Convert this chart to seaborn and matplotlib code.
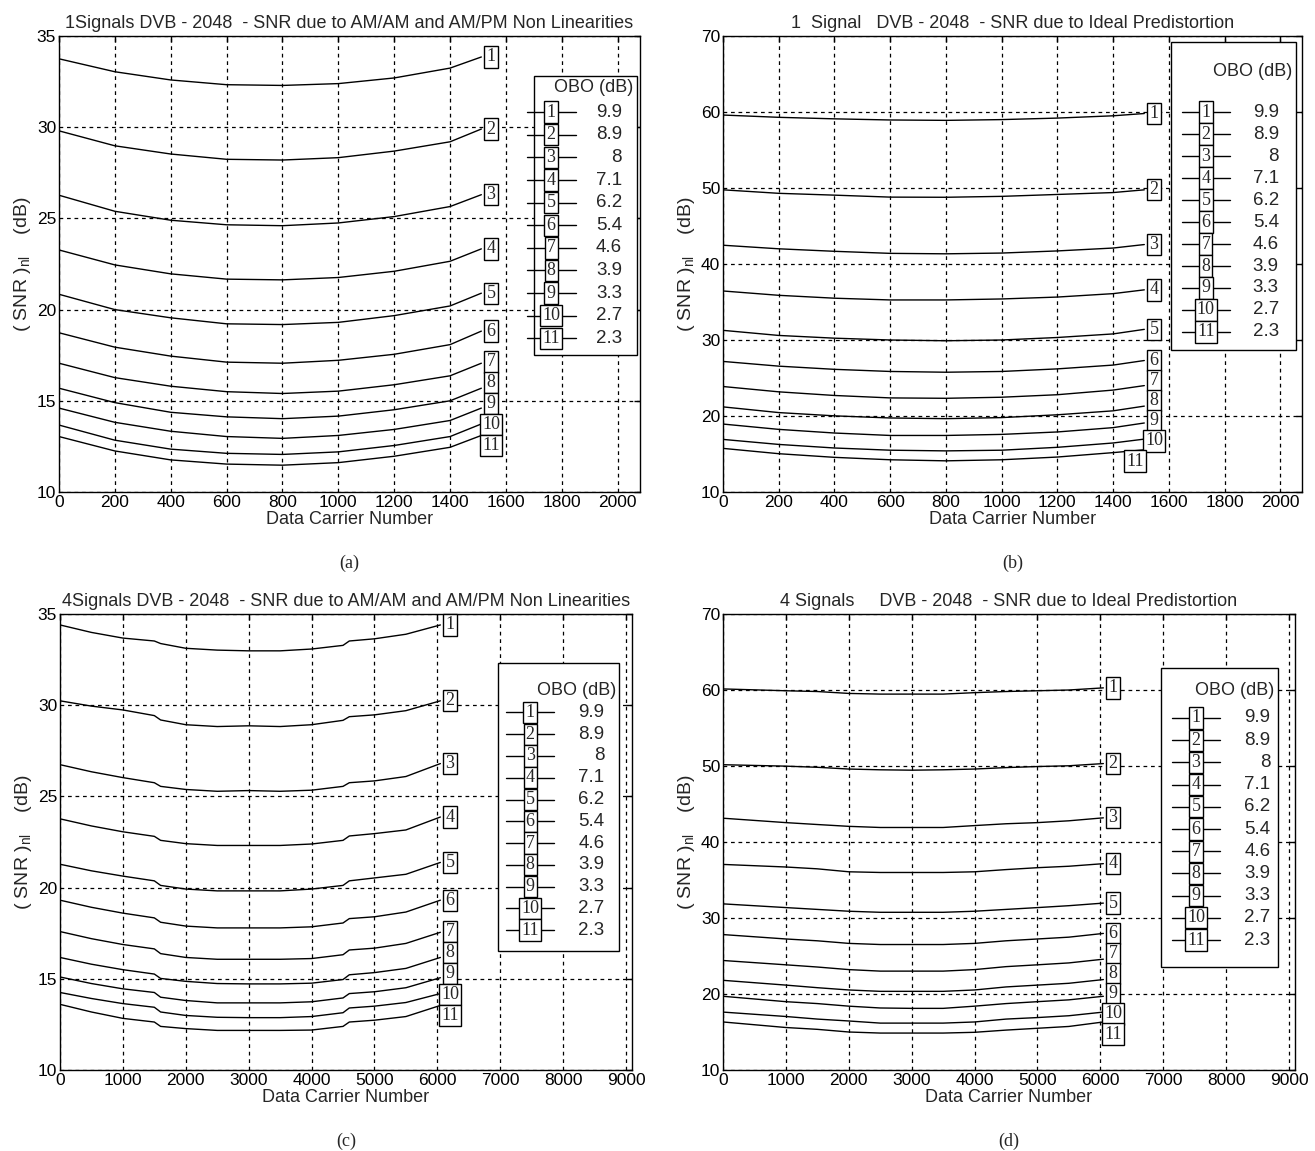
import numpy as np
import pandas as pd
import seaborn as sns
import matplotlib.pyplot as plt
from matplotlib.patches import Rectangle

# ---------------- data ----------------
obo_labels = ["9.9", "8.9", "8", "7.1", "6.2", "5.4", "4.6", "3.9", "3.3", "2.7", "2.3"]
curve_ids = [str(i) for i in range(1, 12)]

# (a) 1 signal, AM/AM + AM/PM non linearities
a_x = [0, 200, 400, 600, 800, 1000, 1200, 1400, 1512]
a_snr = [
    [33.75, 33.04, 32.59, 32.33, 32.29, 32.39, 32.70, 33.24, 33.85],
    [29.80, 28.98, 28.53, 28.24, 28.20, 28.33, 28.69, 29.20, 29.90],
    [26.27, 25.39, 24.90, 24.65, 24.60, 24.75, 25.10, 25.65, 26.30],
    [23.27, 22.45, 21.96, 21.67, 21.63, 21.76, 22.10, 22.65, 23.33],
    [20.84, 20.00, 19.55, 19.22, 19.18, 19.30, 19.67, 20.20, 20.90],
    [18.73, 17.94, 17.45, 17.12, 17.06, 17.22, 17.55, 18.08, 18.82],
    [17.06, 16.27, 15.80, 15.50, 15.40, 15.53, 15.88, 16.37, 17.06],
    [15.69, 14.90, 14.37, 14.12, 14.02, 14.16, 14.51, 15.00, 15.69],
    [14.60, 13.82, 13.33, 13.04, 12.94, 13.10, 13.43, 13.92, 14.60],
    [13.67, 12.84, 12.35, 12.12, 12.06, 12.20, 12.55, 13.04, 13.73],
    [13.04, 12.25, 11.76, 11.53, 11.47, 11.61, 11.96, 12.45, 13.10],
]

# (b) 1 signal, ideal predistortion
b_x = [0, 200, 400, 600, 800, 1000, 1200, 1400, 1512]
b_snr = [
    [59.60, 59.30, 59.10, 58.95, 58.90, 59.00, 59.20, 59.50, 59.80],
    [49.76, 49.30, 49.06, 48.80, 48.78, 48.90, 49.15, 49.40, 49.76],
    [42.47, 42.00, 41.67, 41.40, 41.34, 41.44, 41.72, 42.10, 42.56],
    [36.45, 35.88, 35.50, 35.27, 35.27, 35.40, 35.65, 36.10, 36.60],
    [31.27, 30.60, 30.24, 30.00, 29.90, 30.00, 30.33, 30.80, 31.40],
    [27.18, 26.56, 26.14, 25.86, 25.76, 25.86, 26.20, 26.70, 27.30],
    [23.88, 23.18, 22.70, 22.38, 22.33, 22.47, 22.80, 23.41, 24.00],
    [21.20, 20.45, 20.02, 19.74, 19.65, 19.79, 20.16, 20.68, 21.30],
    [18.94, 18.24, 17.76, 17.44, 17.44, 17.58, 17.90, 18.47, 19.08],
    [16.92, 16.26, 15.79, 15.50, 15.41, 15.50, 15.88, 16.45, 16.96],
    [15.74, 15.04, 14.56, 14.24, 14.10, 14.24, 14.60, 15.18, 15.55],
]

# (c) 4 signals, AM/AM + AM/PM non linearities
c_x = [0, 500, 1000, 1500, 1600, 2000, 2500, 3000, 3500, 4000, 4500, 4600, 5000, 5500, 6048]
c_snr = [
    [34.40, 33.99, 33.68, 33.52, 33.38, 33.12, 33.02, 32.98, 32.98, 33.08, 33.28, 33.52, 33.64, 33.89, 34.40],
    [30.24, 29.95, 29.74, 29.43, 29.19, 28.93, 28.83, 28.87, 28.83, 28.93, 29.17, 29.37, 29.47, 29.70, 30.24],
    [26.74, 26.35, 26.03, 25.75, 25.55, 25.38, 25.28, 25.32, 25.28, 25.34, 25.55, 25.75, 25.85, 26.09, 26.80],
    [23.77, 23.38, 23.06, 22.81, 22.59, 22.41, 22.31, 22.31, 22.31, 22.39, 22.59, 22.83, 22.96, 23.16, 23.87],
    [21.28, 20.92, 20.63, 20.37, 20.12, 19.92, 19.82, 19.82, 19.82, 19.92, 20.12, 20.37, 20.53, 20.73, 21.38],
    [19.31, 18.92, 18.60, 18.34, 18.10, 17.89, 17.79, 17.79, 17.79, 17.85, 18.06, 18.30, 18.40, 18.66, 19.31],
    [17.59, 17.20, 16.88, 16.64, 16.38, 16.17, 16.07, 16.07, 16.07, 16.11, 16.32, 16.58, 16.68, 16.94, 17.55],
    [16.17, 15.80, 15.50, 15.26, 15.02, 14.86, 14.74, 14.72, 14.72, 14.76, 14.96, 15.22, 15.34, 15.57, 16.17],
    [15.10, 14.74, 14.45, 14.25, 13.99, 13.81, 13.68, 13.68, 13.68, 13.74, 13.95, 14.19, 14.29, 14.51, 15.06],
    [14.25, 13.92, 13.64, 13.44, 13.18, 12.99, 12.89, 12.87, 12.87, 12.93, 13.14, 13.40, 13.50, 13.70, 14.19],
    [13.60, 13.18, 12.83, 12.63, 12.39, 12.27, 12.17, 12.17, 12.17, 12.19, 12.39, 12.63, 12.73, 12.93, 13.54],
]

# (d) 4 signals, ideal predistortion
d_x = [0, 1000, 1500, 2000, 2500, 3000, 3500, 4000, 4500, 5000, 5500, 6048]
d_snr = [
    [60.14, 59.90, 59.80, 59.55, 59.46, 59.46, 59.46, 59.65, 59.80, 59.90, 60.00, 60.28],
    [50.17, 49.98, 49.83, 49.60, 49.50, 49.45, 49.50, 49.60, 49.79, 49.93, 50.03, 50.32],
    [43.13, 42.55, 42.30, 42.06, 41.91, 41.91, 41.91, 42.16, 42.40, 42.55, 42.79, 43.18],
    [37.05, 36.71, 36.47, 36.08, 35.99, 35.99, 35.99, 36.08, 36.37, 36.62, 36.81, 37.15],
    [31.86, 31.37, 31.13, 30.89, 30.75, 30.75, 30.75, 30.89, 31.13, 31.37, 31.62, 31.96],
    [27.82, 27.24, 27.00, 26.66, 26.51, 26.51, 26.51, 26.66, 27.00, 27.24, 27.48, 27.97],
    [24.41, 23.84, 23.55, 23.21, 23.01, 23.01, 23.01, 23.21, 23.60, 23.84, 24.09, 24.58],
    [21.80, 21.17, 20.83, 20.53, 20.35, 20.35, 20.35, 20.53, 20.93, 21.17, 21.41, 21.90],
    [19.70, 18.99, 18.74, 18.40, 18.16, 18.11, 18.11, 18.40, 18.74, 18.99, 19.23, 19.70],
    [17.62, 17.04, 16.70, 16.45, 16.17, 16.17, 16.17, 16.32, 16.70, 16.90, 17.14, 17.62],
    [16.32, 15.59, 15.35, 15.00, 14.86, 14.86, 14.86, 14.96, 15.25, 15.49, 15.73, 16.32],
]

titles = [
    "1Signals DVB - 2048  - SNR due to AM/AM and AM/PM Non Linearities",
    "1  Signal   DVB - 2048  - SNR due to Ideal Predistortion",
    "4Signals DVB - 2048  - SNR due to AM/AM and AM/PM Non Linearities",
    "4 Signals     DVB - 2048  - SNR due to Ideal Predistortion",
]
captions = ["(a)", "(b)", "(c)", "(d)"]

# ---------------- style ----------------
sns.set_theme(style="white")
SANS = ["Liberation Sans", "DejaVu Sans"]
SERIF = ["Liberation Serif", "DejaVu Serif"]
plt.rcParams["font.family"] = SANS
plt.rcParams["mathtext.default"] = "regular"

W, H = 1315, 1151
fig = plt.figure(figsize=(W / 100, H / 100), dpi=100)


def ax_at(left, top, right, bottom):
    return fig.add_axes([left / W, 1 - bottom / H, (right - left) / W, (bottom - top) / H])


def spread(vals, gap, iters=400):
    y = list(vals)
    for _ in range(iters):
        moved = False
        for i in range(1, len(y)):
            d = y[i - 1] - y[i]
            if d < gap - 1e-6:
                s = (gap - d) / 2
                y[i - 1] += s
                y[i] -= s
                moved = True
        if not moved:
            break
    return y


box_kw = dict(boxstyle="square,pad=0.12", fc="white", ec="black", lw=1.0)

panels = [
    dict(x=a_x, snr=a_snr, rect=(59, 36, 640, 492), xlim=(0, 2080), xticks=range(0, 2001, 200),
         ylim=(10, 35), yticks=range(10, 36, 5), gap=1.15, last_dx=0,
         leg=(0.818, 0.995, 0.912, 0.300, 0.886, 0.833, 0.0496, 0.847, 0.969)),
    dict(x=b_x, snr=b_snr, rect=(723, 36, 1302, 492), xlim=(0, 2078), xticks=range(0, 2001, 200),
         ylim=(10, 70), yticks=range(10, 71, 10), gap=2.65, last_dx=-68,
         leg=(0.774, 0.989, 0.987, 0.311, 0.923, 0.833, 0.0482, 0.834, 0.960)),
    dict(x=c_x, snr=c_snr, rect=(60, 614, 632, 1070), xlim=(0, 9095), xticks=range(0, 9001, 1000),
         ylim=(10, 35), yticks=range(10, 36, 5), gap=1.15, last_dx=0,
         leg=(0.765, 0.978, 0.8925, 0.261, 0.833, 0.784, 0.0477, 0.822, 0.952)),
    dict(x=d_x, snr=d_snr, rect=(723, 614, 1295, 1070), xlim=(0, 9095), xticks=range(0, 9001, 1000),
         ylim=(10, 70), yticks=range(10, 71, 10), gap=2.65, last_dx=0,
         leg=(0.766, 0.970, 0.882, 0.226, 0.833, 0.772, 0.0487, 0.827, 0.957)),
]

for k, p in enumerate(panels):
    ax = ax_at(*p["rect"])
    rows = []
    for cid, ys in zip(curve_ids, p["snr"]):
        for xv, yv in zip(p["x"], ys):
            rows.append((cid, xv, yv))
    df = pd.DataFrame(rows, columns=["curve", "carrier", "snr"])
    sns.lineplot(data=df, x="carrier", y="snr", hue="curve", palette=["black"] * 11,
                 legend=False, ax=ax, linewidth=1.0, estimator=None, sort=False)

    ax.set_xlim(*p["xlim"])
    ax.set_ylim(*p["ylim"])
    ax.set_xticks(list(p["xticks"]))
    ax.set_yticks(list(p["yticks"]))
    ax.grid(True, color="black", linestyle=(0, (3, 3)), linewidth=0.9)
    ax.tick_params(direction="in", top=True, right=True, length=4, width=1,
                   labelsize=12.5, colors="black", pad=2)
    for s in ax.spines.values():
        s.set_color("black")
        s.set_linewidth(1.0)
    ax.set_title(titles[k], fontsize=13, pad=6)
    ax.set_xlabel("Data Carrier Number", fontsize=13, labelpad=1)
    ax.set_ylabel("( SNR )$_{nl}$    (dB)", fontsize=14, labelpad=3)

    # end-of-curve boxed labels
    ends = [ys[-1] for ys in p["snr"]]
    ly = spread(ends, p["gap"])
    x_end = p["x"][-1]
    for i, (cid, yv) in enumerate(zip(curve_ids, ly)):
        dx = p["last_dx"] if i == len(curve_ids) - 1 else 0
        ax.annotate(cid, xy=(x_end + dx, yv), xytext=(7, 0), textcoords="offset points",
                    ha="center", va="center", fontsize=13, family=SERIF,
                    bbox=box_kw, zorder=6, annotation_clip=False)

    # legend block
    x0, x1, yt, yb, yh, y1, dy, bx, vx = p["leg"]
    ax.add_patch(Rectangle((x0, yb), x1 - x0, yt - yb, transform=ax.transAxes,
                           fc="white", ec="black", lw=1.0, zorder=7))
    ax.text(x1 - 0.006, yh, "OBO (dB)", transform=ax.transAxes, ha="right", va="center",
            fontsize=13, zorder=8)
    for i, (cid, lab) in enumerate(zip(curve_ids, obo_labels)):
        yy = y1 - i * dy
        ax.plot([bx - 0.042, bx + 0.042], [yy, yy], transform=ax.transAxes,
                color="black", lw=1.0, zorder=8)
        ax.text(bx, yy, cid, transform=ax.transAxes, ha="center", va="center",
                fontsize=13, family=SERIF, bbox=box_kw, zorder=9)
        ax.text(vx, yy, lab, transform=ax.transAxes, ha="right", va="center",
                fontsize=13.5, zorder=9)

    # caption
    l, t, r, b = p["rect"]
    fig.text(((l + r) / 2) / W, 1 - (b + 71) / H, captions[k], ha="center", va="center",
             fontsize=13, family=SERIF)

fig.savefig("out.png", dpi=100, facecolor="white")
